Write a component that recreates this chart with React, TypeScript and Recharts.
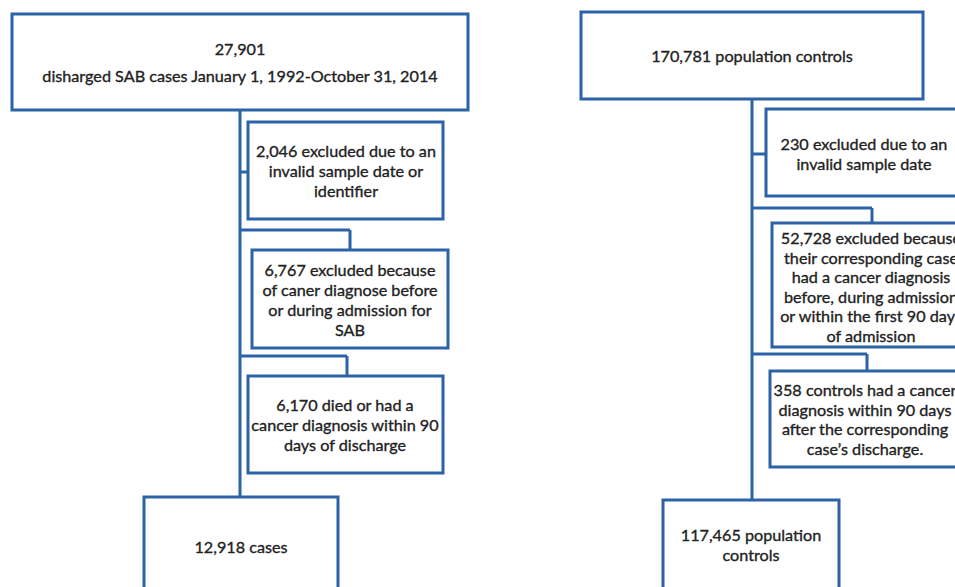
import { ComposedChart, XAxis, YAxis, ReferenceArea, ReferenceLine, ReferenceDot } from "recharts";

// counts shown in each box (cases column, then population controls column)
const caseCounts = [27901, 2046, 6767, 6170, 12918];
const controlCounts = [170781, 230, 52728, 358, 117465];

// text following the count, one entry per line
const caseText = [
  ["", "disharged SAB cases January 1, 1992-October 31, 2014"],
  ["excluded due to an", "invalid sample date or", "identifier"],
  ["excluded because", "of caner diagnose before", "or during admission for", "SAB"],
  ["died or had a", "cancer diagnosis within 90", "days of discharge"],
  ["cases"],
];
const controlText = [
  ["population controls"],
  ["excluded due to an", "invalid sample date"],
  ["excluded because", "their corresponding case", "had a cancer diagnosis", "before, during admission", "or within the first 90 days", "of admission"],
  ["controls had a cancer", "diagnosis within 90 days", "after the corresponding", "case\u2019s discharge."],
  ["population", "controls"],
];

// layout: box [x1, x2, y1, y2, textX, textY, lineHeight]
const caseBoxes = [
  [12, 468, 14, 110, 240, 61.5, 27],
  [248, 443, 122, 219, 346, 170, 19.8],
  [252, 448, 250, 348, 350, 299, 19.8],
  [248, 443, 376, 473, 345, 424, 19.8],
  [144, 338, 497, 620, 241, 546, 19.8],
];
const controlBoxes = [
  [581, 923, 12, 99, 752, 55, 19.8],
  [766, 962, 109, 196, 864, 153, 19.8],
  [772, 972, 223, 347, 871, 286, 19.6],
  [770, 960, 371, 467, 865, 418.5, 19.6],
  [663, 839, 500, 620, 751, 544, 19.8],
];
// connector segments [x1, y1, x2, y2]
const caseLinks = [
  [240, 110, 240, 497],
  [240, 172, 248, 172],
  [240, 230, 350, 230],
  [350, 230, 350, 250],
  [240, 356, 347, 356],
  [347, 356, 347, 376],
];
const controlLinks = [
  [752, 99, 752, 500],
  [752, 154, 766, 154],
  [752, 208, 872, 208],
  [872, 208, 872, 223],
  [752, 354, 867, 354],
  [867, 354, 867, 371],
];

const W = 955;
const H = 587;
const BLUE = "#2c62a8";
const FONT = "Lato, 'Open Sans', sans-serif";

const fmt = (n: number) => n.toLocaleString("en-US");

function buildLines(count: number, text: string[]) {
  const first = (fmt(count) + " " + text[0]).trim();
  return [first, ...text.slice(1)];
}

function BoxText(props: any) {
  const { cx, cy, lines, lineH } = props;
  const top = cy - ((lines.length - 1) * lineH) / 2;
  return (
    <text
      x={cx}
      y={top}
      textAnchor="middle"
      dominantBaseline="central"
      fontFamily={FONT}
      fontSize={16.2}
      fill="#222"
      stroke="#222"
      strokeWidth={0.35}
    >
      {lines.map((l: string, i: number) => (
        <tspan key={i} x={cx} y={top + i * lineH}>{l}</tspan>
      ))}
    </text>
  );
}

export default function App() {
  const columns = [
    { counts: caseCounts, text: caseText, boxes: caseBoxes, links: caseLinks },
    { counts: controlCounts, text: controlText, boxes: controlBoxes, links: controlLinks },
  ];
  return (
    <div style={{ position: "absolute", left: 0, top: 0, width: W, height: H, background: "#fff", overflow: "hidden" }}>
      <ComposedChart width={W} height={H} data={[{ x: 0, y: 0 }]} margin={{ top: 0, right: 0, bottom: 0, left: 0 }}>
        <XAxis type="number" dataKey="x" domain={[0, W]} hide allowDataOverflow />
        <YAxis type="number" dataKey="y" domain={[0, H]} reversed hide allowDataOverflow />
        {columns.flatMap((c, ci) =>
          c.links.map((s, i) => (
            <ReferenceLine
              key={`l${ci}-${i}`}
              segment={[{ x: s[0], y: s[1] }, { x: s[2], y: s[3] }]}
              stroke={BLUE}
              strokeWidth={3}
              ifOverflow="visible"
            />
          ))
        )}
        {columns.flatMap((c, ci) =>
          c.boxes.map((b, i) => (
            <ReferenceArea
              key={`b${ci}-${i}`}
              x1={b[0]}
              x2={b[1]}
              y1={b[2]}
              y2={b[3]}
              fill="#fff"
              fillOpacity={1}
              stroke={BLUE}
              strokeWidth={3}
              ifOverflow="visible"
            />
          ))
        )}
        {columns.flatMap((c, ci) =>
          c.boxes.map((b, i) => (
            <ReferenceDot
              key={`t${ci}-${i}`}
              x={b[4]}
              y={b[5]}
              r={0}
              ifOverflow="visible"
              shape={(p: any) => (
                <BoxText cx={p.cx} cy={p.cy} lineH={b[6]} lines={buildLines(c.counts[i], c.text[i])} />
              )}
            />
          ))
        )}
      </ComposedChart>
    </div>
  );
}
